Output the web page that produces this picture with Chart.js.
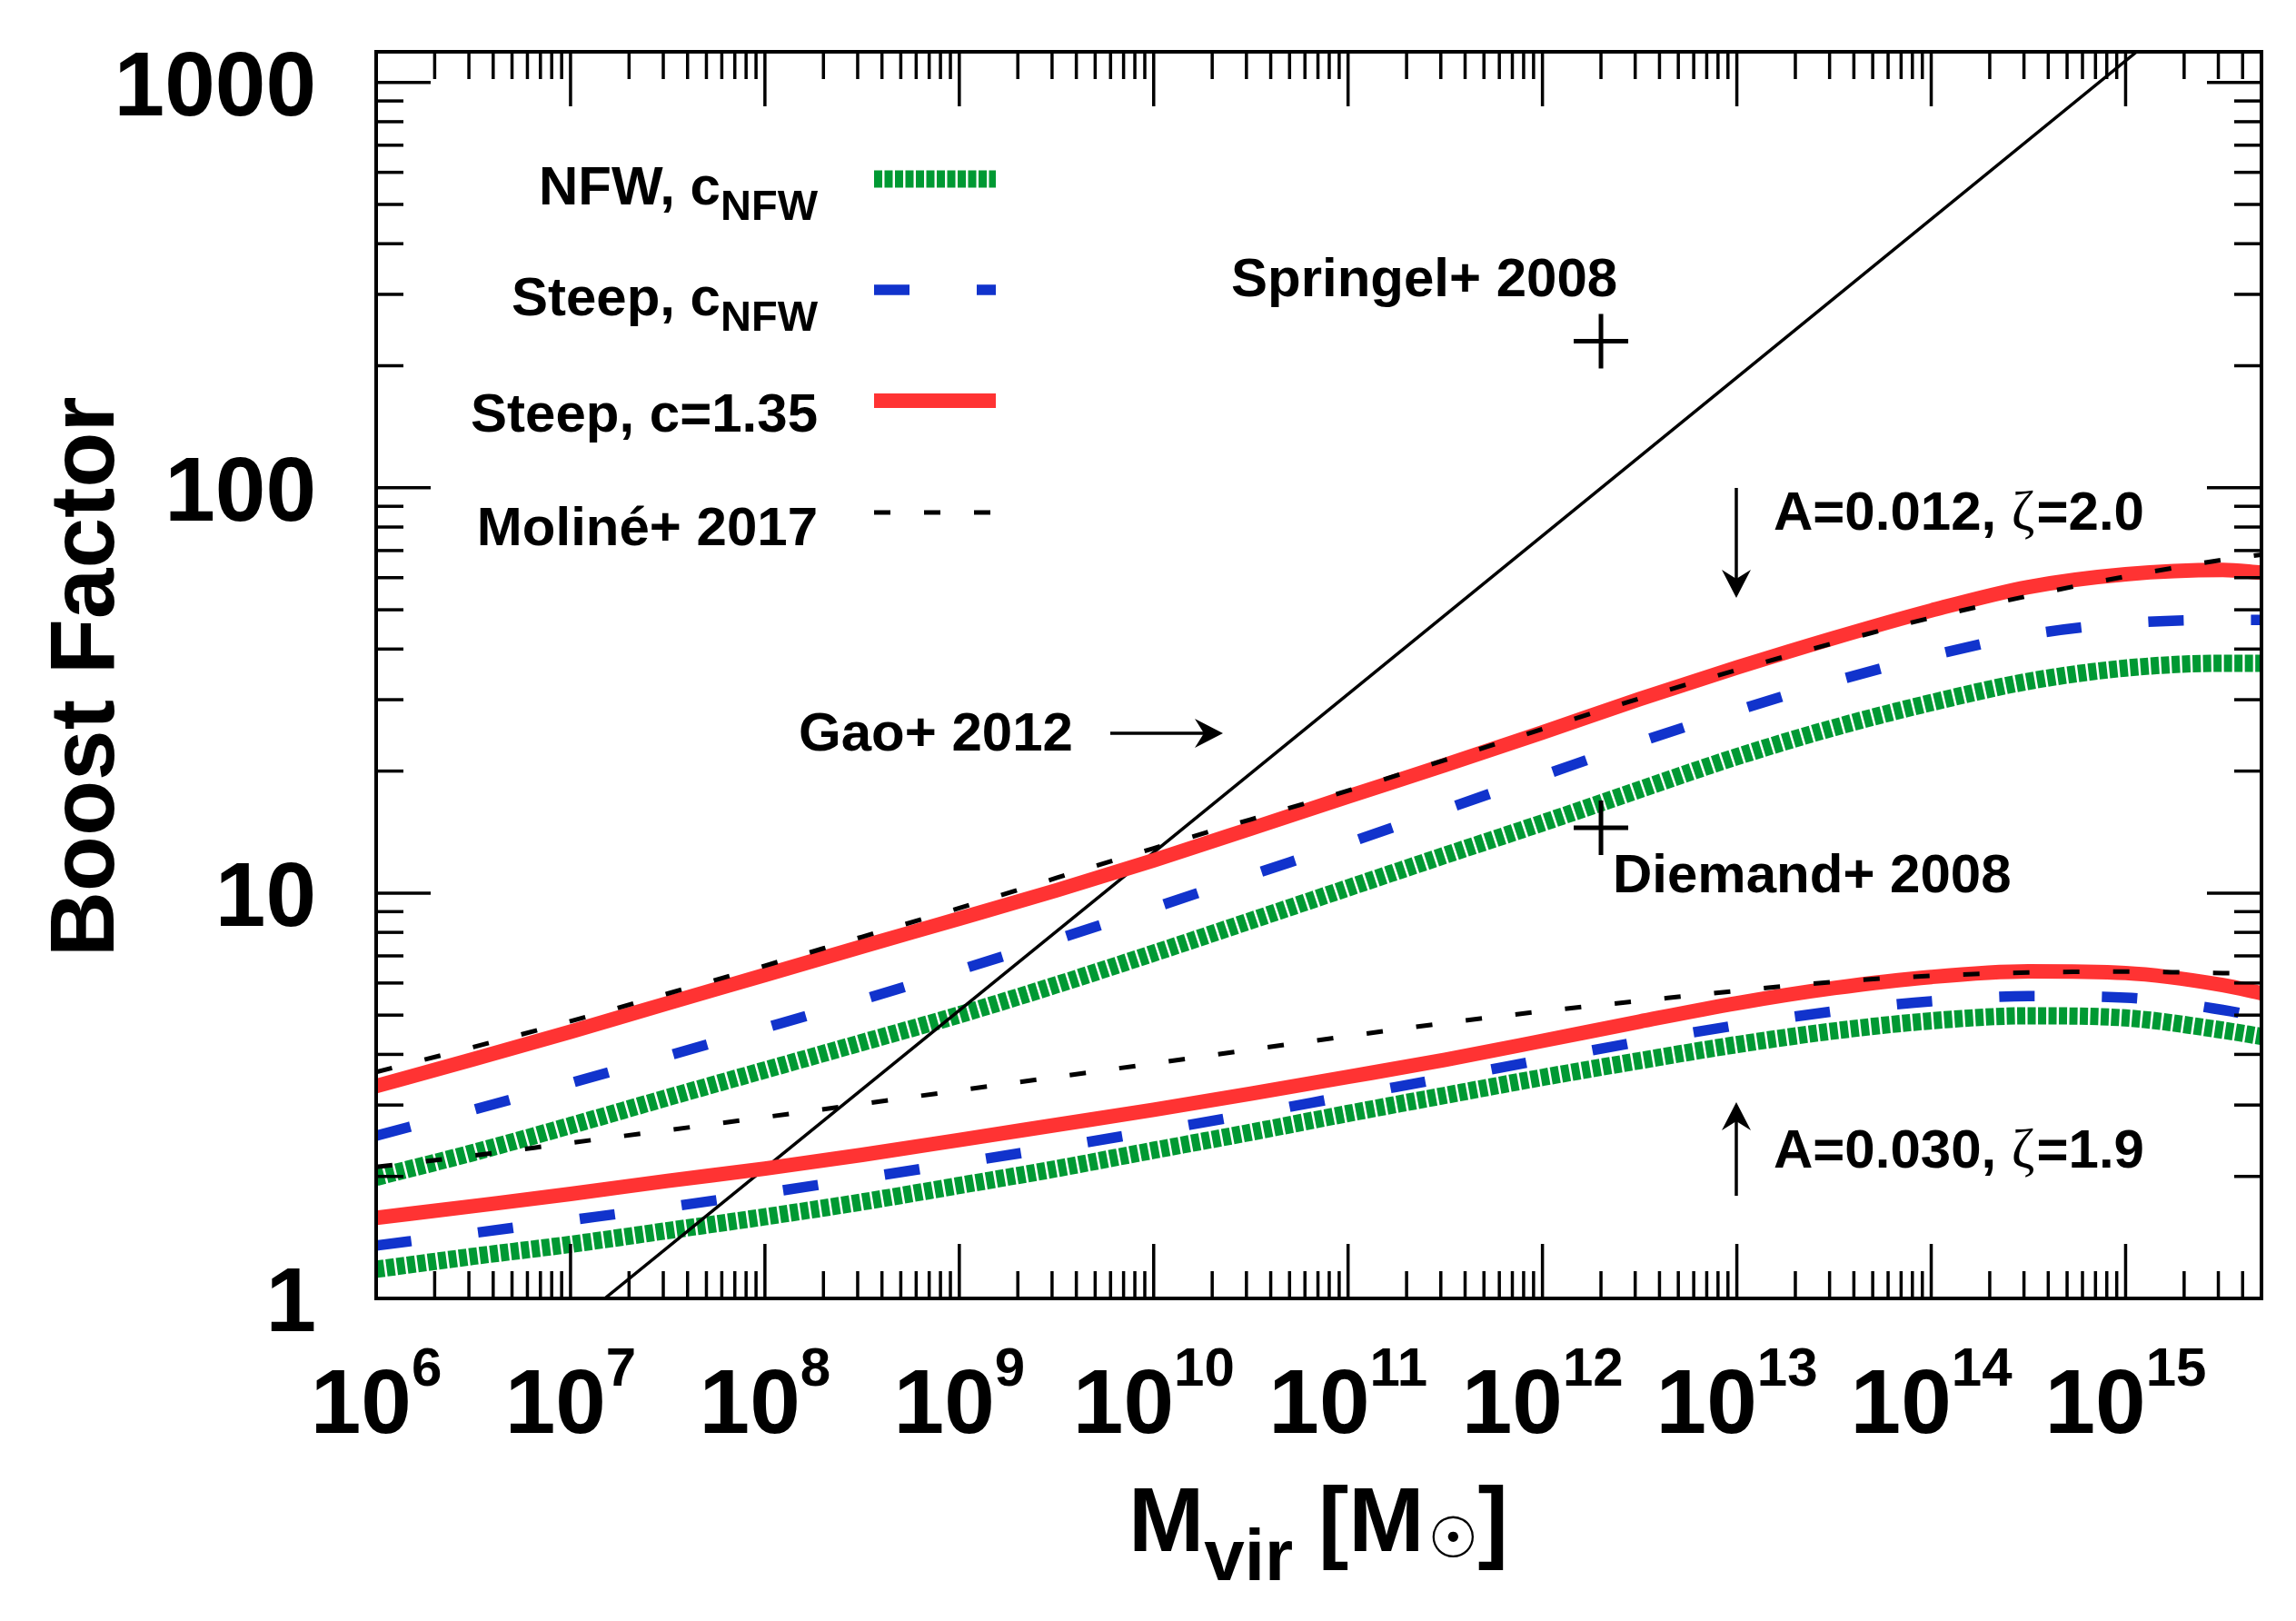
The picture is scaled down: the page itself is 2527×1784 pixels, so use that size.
<!DOCTYPE html>
<html>
<head>
<meta charset="utf-8">
<title>Boost Factor vs Mvir</title>
<script src="https://cdn.jsdelivr.net/npm/chart.js@4.4.1/dist/chart.umd.min.js"></script>
<style>
html,body{margin:0;padding:0;background:#ffffff;overflow:hidden;}
#wrap{position:relative;width:2527px;height:1784px;}
canvas{display:block;}
</style>
</head>
<body>
<div id="wrap"><canvas id="chart" width="2527" height="1784"></canvas></div>
<script>
// ---------------- data ----------------
const masses = [1e6, 3.16e6, 1e7, 3.16e7, 1e8, 3.16e8, 1e9, 3.16e9, 1e10, 3.16e10,
                1e11, 3.16e11, 1e12, 3.16e12, 1e13, 3.16e13, 1e14, 3.16e14, 1e15, 3.16e15, 5e15];

// upper family: A=0.012, zeta=2.0
const nfwA012      = [1.99, 2.29, 2.67, 3.13, 3.66, 4.28, 5.01, 5.94, 7.11, 8.55, 10.3, 12.4, 14.9, 18.0, 21.7, 25.6, 29.5, 33.3, 35.9, 36.9, 36.9];
const steepA012    = [2.52, 2.92, 3.40, 3.97, 4.65, 5.46, 6.46, 7.69, 9.20, 11.07, 13.3, 16.1, 19.5, 23.6, 28.2, 33.3, 38.5, 43.4, 46.3, 47.2, 47.2];
const steep135A012 = [3.34, 3.89, 4.55, 5.35, 6.28, 7.38, 8.65, 10.16, 12.05, 14.42, 17.3, 20.7, 24.9, 30.1, 36.0, 42.6, 49.8, 56.9, 61.2, 62.7, 61.7];
const molineA012   = [3.62, 4.17, 4.83, 5.65, 6.62, 7.80, 9.18, 10.9, 12.9, 15.2, 17.9, 21.3, 25.4, 30.2, 35.5, 41.4, 47.8, 54.1, 60.4, 66.4, 68.4];

// lower family: A=0.030, zeta=1.9
const nfwA030      = [1.18, 1.27, 1.36, 1.47, 1.59, 1.73, 1.90, 2.09, 2.32, 2.57, 2.86, 3.17, 3.51, 3.86, 4.23, 4.57, 4.84, 4.98, 4.92, 4.59, 4.43];
const steepA030    = [1.35, 1.45, 1.56, 1.68, 1.82, 1.98, 2.16, 2.36, 2.59, 2.85, 3.16, 3.50, 3.88, 4.30, 4.72, 5.11, 5.41, 5.57, 5.52, 5.15, 4.94];
const steep135A030 = [1.58, 1.69, 1.81, 1.95, 2.09, 2.26, 2.46, 2.68, 2.92, 3.20, 3.52, 3.88, 4.32, 4.82, 5.35, 5.83, 6.21, 6.41, 6.35, 5.93, 5.66];
const molineA030   = [2.11, 2.25, 2.42, 2.60, 2.80, 3.02, 3.26, 3.52, 3.80, 4.11, 4.44, 4.78, 5.11, 5.42, 5.74, 6.04, 6.25, 6.37, 6.40, 6.35, 6.34];

// Gao+ 2012 power law (straight line in log-log)
const gaoMass  = [1.5e7, 1e10, 1.14e15];
const gaoBoost = [1.0, 12.6, 1190];

// simulation points
const simLabels = ['Springel+ 2008', 'Diemand+ 2008'];
const simMass   = [2e12, 2e12];
const simBoost  = [230, 14.5];

// axes
const xRange = [1e6, 5e15];
const yRange = [1, 1190];
const xTickValues    = [1e6, 1e7, 1e8, 1e9, 1e10, 1e11, 1e12, 1e13, 1e14, 1e15];
const xTickExponents = ['6', '7', '8', '9', '10', '11', '12', '13', '14', '15'];
const yTickValues    = [1, 10, 100, 1000];
const yTickLabels    = ['1', '10', '100', '1000'];
const minorMultipliers = [2, 3, 4, 5, 6, 7, 8, 9];

// legend
const legendMain = ['NFW, c', 'Steep, c', 'Steep, c=1.35', 'Moliné+ 2017'];
const legendSub  = ['NFW', 'NFW', '', ''];
const familyA    = ['A=0.012, ', 'A=0.030, '];
const familyZeta = ['=2.0', '=1.9'];

// ---------------- styles ----------------
const RED = '#ff3333', GREEN = '#009933', BLUE = '#1133cc', BLACK = '#000000';
const FONT = '"Liberation Sans", Arial, Helvetica, sans-serif';
const bold = px => 'bold ' + px + 'px ' + FONT;
const styles = {
  nfw:      {borderColor: GREEN, borderWidth: 19, borderDash: [9, 2.5]},
  steep:    {borderColor: BLUE,  borderWidth: 11.5, borderDash: [39, 74]},
  steep135: {borderColor: RED,   borderWidth: 16, borderDash: []},
  moline:   {borderColor: BLACK, borderWidth: 5, borderDash: [18, 37]},
  gao:      {borderColor: BLACK, borderWidth: 3.5, borderDash: []}
};
const legendStyles = [styles.nfw, styles.steep, styles.steep135, styles.moline];

function pts(xs, ys) { return xs.map((x, i) => ({x: x, y: ys[i]})); }
function lineDs(label, xs, ys, st, order) {
  return Object.assign({
    label: label, data: pts(xs, ys), order: order, fill: false,
    pointRadius: 0, pointHoverRadius: 0, borderCapStyle: 'butt', borderJoinStyle: 'round',
    cubicInterpolationMode: 'monotone', clip: 0
  }, st);
}

const datasets = [
  {label: 'simulations', data: pts(simMass, simBoost), showLine: false, order: 0, clip: 0,
   pointStyle: 'cross', pointRadius: 30, pointHoverRadius: 30, pointBorderWidth: 5,
   pointBorderColor: BLACK, borderColor: BLACK, backgroundColor: BLACK},
  lineDs('Moliné+ 2017 (A=0.012)', masses, molineA012, styles.moline, 1),
  lineDs('Moliné+ 2017 (A=0.030)', masses, molineA030, styles.moline, 1),
  lineDs('Steep, c=1.35 (A=0.012)', masses, steep135A012, styles.steep135, 2),
  lineDs('Steep, c=1.35 (A=0.030)', masses, steep135A030, styles.steep135, 2),
  lineDs('Gao+ 2012', gaoMass, gaoBoost, styles.gao, 3),
  lineDs('Steep, cNFW (A=0.012)', masses, steepA012, styles.steep, 4),
  lineDs('Steep, cNFW (A=0.030)', masses, steepA030, styles.steep, 4),
  lineDs('NFW, cNFW (A=0.012)', masses, nfwA012, styles.nfw, 5),
  lineDs('NFW, cNFW (A=0.030)', masses, nfwA030, styles.nfw, 5)
];

// ---------------- drawing helpers ----------------
function seg(ctx, x0, y0, x1, y1) { ctx.beginPath(); ctx.moveTo(x0, y0); ctx.lineTo(x1, y1); ctx.stroke(); }
function arrow(ctx, x0, y0, x1, y1) {
  const dx = x1 - x0, dy = y1 - y0, L = Math.hypot(dx, dy), ux = dx / L, uy = dy / L, px = -uy, py = ux;
  const head = 31, half = 16, notch = 21;
  seg(ctx, x0, y0, x1 - ux * notch, y1 - uy * notch);
  ctx.beginPath();
  ctx.moveTo(x1, y1);
  ctx.lineTo(x1 - ux * head + px * half, y1 - uy * head + py * half);
  ctx.lineTo(x1 - ux * notch, y1 - uy * notch);
  ctx.lineTo(x1 - ux * head - px * half, y1 - uy * head - py * half);
  ctx.closePath();
  ctx.fill();
}
function withMinors(majors, min, max) {
  const out = [];
  majors.forEach(v => {
    if (v >= min * 0.9999 && v <= max * 1.0001) out.push({v: v, major: true});
    minorMultipliers.forEach(m => { const w = v * m; if (w > min * 1.0001 && w < max * 0.9999) out.push({v: w, major: false}); });
  });
  return out;
}
function familyLabel(ctx, i, x, y) {
  ctx.font = bold(60); ctx.fillText(familyA[i], x, y); x += ctx.measureText(familyA[i]).width;
  ctx.font = '62px "Liberation Serif", "DejaVu Serif", serif'; ctx.fillText('ζ', x, y); x += ctx.measureText('ζ').width + 2;
  ctx.font = bold(60); ctx.fillText(familyZeta[i], x, y);
}

const decorPlugin = {
  id: 'decor',
  afterDraw(chart) {
    const ctx = chart.ctx, a = chart.chartArea, xs = chart.scales.x, ys = chart.scales.y;
    ctx.save();
    ctx.fillStyle = BLACK; ctx.strokeStyle = BLACK; ctx.lineCap = 'butt'; ctx.setLineDash([]);

    // ticks on all four sides (inward)
    ctx.lineWidth = 3.5;
    withMinors(xTickValues, xRange[0], xRange[1]).forEach(t => {
      const p = xs.getPixelForValue(t.v), len = t.major ? 60 : 30;
      seg(ctx, p, a.bottom, p, a.bottom - len);
      seg(ctx, p, a.top, p, a.top + len);
    });
    withMinors(yTickValues, yRange[0], yRange[1]).forEach(t => {
      const p = ys.getPixelForValue(t.v), len = t.major ? 60 : 30;
      seg(ctx, a.left, p, a.left + len, p);
      seg(ctx, a.right, p, a.right - len, p);
    });
    // frame
    ctx.lineWidth = 4;
    ctx.strokeRect(a.left, a.top, a.right - a.left, a.bottom - a.top);

    // y tick labels
    ctx.textBaseline = 'alphabetic';
    ctx.textAlign = 'right';
    ctx.font = bold(100);
    yTickValues.forEach((v, i) => ctx.fillText(yTickLabels[i], a.left - 66, ys.getPixelForValue(v) + 36));
    // x tick labels 10^n
    ctx.textAlign = 'left';
    xTickValues.forEach((v, i) => {
      const p = xs.getPixelForValue(v);
      ctx.font = bold(100); const w1 = ctx.measureText('10').width;
      ctx.font = bold(60);  const w2 = ctx.measureText(xTickExponents[i]).width;
      const x0 = p - (w1 + w2) / 2;
      ctx.font = bold(100); ctx.fillText('10', x0, a.bottom + 148);
      ctx.font = bold(60);  ctx.fillText(xTickExponents[i], x0 + w1, a.bottom + 96);
    });

    // y axis title
    ctx.save();
    ctx.translate(125, (a.top + a.bottom) / 2 + 2);
    ctx.rotate(-Math.PI / 2);
    ctx.textAlign = 'center';
    ctx.font = bold(100);
    ctx.fillText('Boost Factor', 0, 0);
    ctx.restore();

    // x axis title  M_vir [M_sun]
    ctx.textAlign = 'left';
    let x = 1242;
    ctx.font = bold(100); ctx.fillText('M', x, 1707); x += ctx.measureText('M').width;
    ctx.font = bold(80);  ctx.fillText('vir', x, 1739); x += ctx.measureText('vir').width;
    ctx.font = bold(100); ctx.fillText(' [M', x, 1707); x += ctx.measureText(' [M').width;
    ctx.font = '100px "DejaVu Sans"';
    let m = ctx.measureText('☉');
    const inkW = (m.actualBoundingBoxLeft + m.actualBoundingBoxRight) || 80;
    const size = 100 * 46 / inkW;
    ctx.font = size + 'px "DejaVu Sans"';
    m = ctx.measureText('☉');
    const cx = x + 32, cy = 1691;
    ctx.fillText('☉', cx - (m.actualBoundingBoxRight - m.actualBoundingBoxLeft) / 2,
                 cy - (m.actualBoundingBoxDescent - m.actualBoundingBoxAscent) / 2);
    ctx.font = bold(100); ctx.fillText(']', x + 59, 1707);

    // legend
    const legTextRight = 900, legLineX0 = 962, legLineX1 = 1096;
    const legLineY = [197, 319, 441, 564], legBase = [225, 347, 475, 600];
    legendMain.forEach((t, i) => {
      ctx.textAlign = 'left';
      ctx.font = bold(47); const ws = legendSub[i] ? ctx.measureText(legendSub[i]).width : 0;
      ctx.font = bold(60); const wm = ctx.measureText(t).width;
      ctx.fillText(t, legTextRight - ws - wm, legBase[i]);
      if (legendSub[i]) { ctx.font = bold(47); ctx.fillText(legendSub[i], legTextRight - ws, legBase[i] + 17); }
      const st = legendStyles[i];
      ctx.save();
      ctx.strokeStyle = st.borderColor; ctx.lineWidth = st.borderWidth; ctx.setLineDash(st.borderDash);
      seg(ctx, legLineX0, legLineY[i], legLineX1, legLineY[i]);
      ctx.restore();
    });

    // annotations
    ctx.font = bold(60);
    ctx.textAlign = 'left';
    ctx.fillText(simLabels[0], 1355, 326);
    ctx.fillText(simLabels[1], 1775, 982);
    ctx.fillText('Gao+ 2012', 879, 826);
    familyLabel(ctx, 0, 1952, 583);
    familyLabel(ctx, 1, 1952, 1285);
    ctx.lineWidth = 3.5;
    arrow(ctx, 1222, 807, 1346, 807);
    arrow(ctx, 1911, 537, 1911, 658);
    arrow(ctx, 1911, 1316, 1911, 1213);
    ctx.restore();
  }
};

new Chart(document.getElementById('chart'), {
  type: 'line',
  data: {datasets: datasets},
  options: {
    responsive: false,
    maintainAspectRatio: false,
    animation: false,
    devicePixelRatio: 1,
    layout: {padding: {left: 414, right: 38, top: 57, bottom: 355}},
    plugins: {legend: {display: false}, tooltip: {enabled: false}, title: {display: false}},
    events: [],
    scales: {
      x: {type: 'logarithmic', min: xRange[0], max: xRange[1], display: false},
      y: {type: 'logarithmic', min: yRange[0], max: yRange[1], display: false}
    }
  },
  plugins: [decorPlugin]
});
</script>
</body>
</html>
